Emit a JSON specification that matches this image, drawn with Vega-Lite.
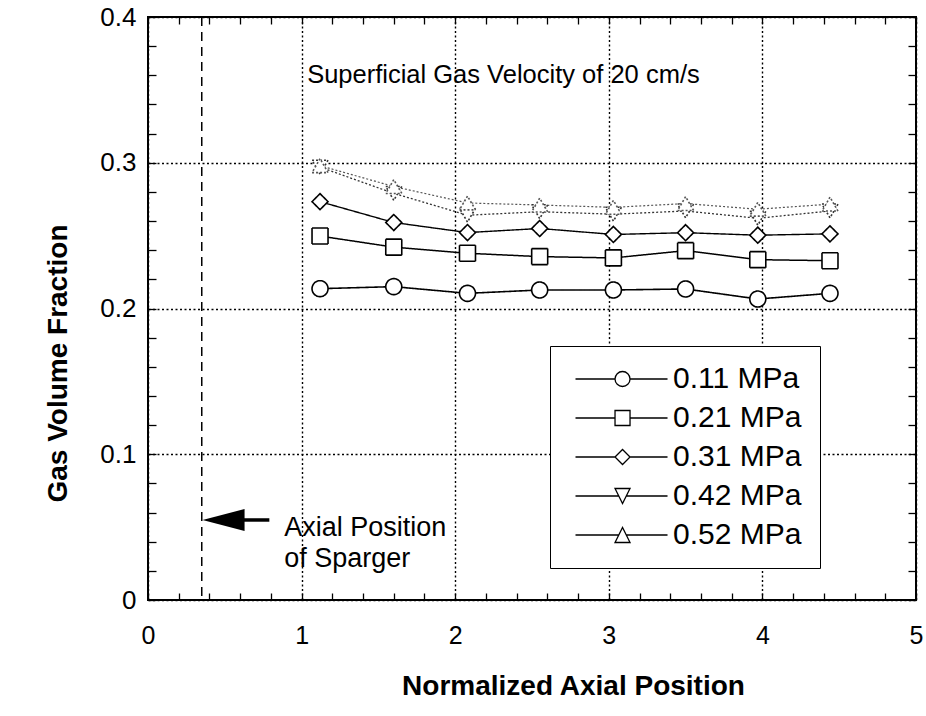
{
  "$schema": "https://vega.github.io/schema/vega-lite/v6.json",
  "width": 768,
  "height": 583,
  "autosize": {"type": "none"},
  "padding": {"left": 148, "top": 17, "right": 10, "bottom": 116},
  "background": "white",
  "config": {
    "view": {"stroke": "black", "strokeWidth": 2},
    "font": "Liberation Sans"
  },
  "datasets": {
    "gas": [
      {"series": "0.11 MPa", "pos": 1.12, "frac": 0.2136},
      {"series": "0.11 MPa", "pos": 1.6, "frac": 0.215},
      {"series": "0.11 MPa", "pos": 2.08, "frac": 0.2104},
      {"series": "0.11 MPa", "pos": 2.55, "frac": 0.2127},
      {"series": "0.11 MPa", "pos": 3.03, "frac": 0.2127},
      {"series": "0.11 MPa", "pos": 3.5, "frac": 0.2134},
      {"series": "0.11 MPa", "pos": 3.97, "frac": 0.2065},
      {"series": "0.11 MPa", "pos": 4.44, "frac": 0.2104},
      {"series": "0.21 MPa", "pos": 1.12, "frac": 0.2497},
      {"series": "0.21 MPa", "pos": 1.6, "frac": 0.2421},
      {"series": "0.21 MPa", "pos": 2.08, "frac": 0.2379},
      {"series": "0.21 MPa", "pos": 2.55, "frac": 0.2356},
      {"series": "0.21 MPa", "pos": 3.03, "frac": 0.2347},
      {"series": "0.21 MPa", "pos": 3.5, "frac": 0.2397},
      {"series": "0.21 MPa", "pos": 3.97, "frac": 0.2335},
      {"series": "0.21 MPa", "pos": 4.44, "frac": 0.2328},
      {"series": "0.31 MPa", "pos": 1.12, "frac": 0.2733},
      {"series": "0.31 MPa", "pos": 1.6, "frac": 0.259},
      {"series": "0.31 MPa", "pos": 2.08, "frac": 0.2521},
      {"series": "0.31 MPa", "pos": 2.55, "frac": 0.2549},
      {"series": "0.31 MPa", "pos": 3.03, "frac": 0.2508},
      {"series": "0.31 MPa", "pos": 3.5, "frac": 0.252},
      {"series": "0.31 MPa", "pos": 3.97, "frac": 0.2503},
      {"series": "0.31 MPa", "pos": 4.44, "frac": 0.2512},
      {"series": "0.42 MPa", "pos": 1.12, "frac": 0.297},
      {"series": "0.42 MPa", "pos": 1.6, "frac": 0.279},
      {"series": "0.42 MPa", "pos": 2.08, "frac": 0.264},
      {"series": "0.42 MPa", "pos": 2.55, "frac": 0.2664},
      {"series": "0.42 MPa", "pos": 3.03, "frac": 0.2647},
      {"series": "0.42 MPa", "pos": 3.5, "frac": 0.2669},
      {"series": "0.42 MPa", "pos": 3.97, "frac": 0.2619},
      {"series": "0.42 MPa", "pos": 4.44, "frac": 0.2669},
      {"series": "0.52 MPa", "pos": 1.12, "frac": 0.298},
      {"series": "0.52 MPa", "pos": 1.6, "frac": 0.2837},
      {"series": "0.52 MPa", "pos": 2.08, "frac": 0.2724},
      {"series": "0.52 MPa", "pos": 2.55, "frac": 0.271},
      {"series": "0.52 MPa", "pos": 3.03, "frac": 0.2694},
      {"series": "0.52 MPa", "pos": 3.5, "frac": 0.272},
      {"series": "0.52 MPa", "pos": 3.97, "frac": 0.2681},
      {"series": "0.52 MPa", "pos": 4.44, "frac": 0.2716}
    ],
    "sparger": [{"pos": 0.35}],
    "shaft": [{"pos": 0.6, "pos2": 0.79, "frac": 0.0549}],
    "head": [{"pos": 0.492, "frac": 0.0549}],
    "note": [{"pos": 0.887, "frac": 0.0497, "text": "Axial Position\nof Sparger"}],
    "title": [{"pos": 1.036, "frac": 0.3602, "text": "Superficial Gas Velocity of 20 cm/s"}]
  },
  "layer": [
    {
      "data": {"name": "gas"},
      "mark": {"type": "line"},
      "encoding": {
        "x": {
          "field": "pos", "type": "quantitative",
          "scale": {"domain": [0, 5], "nice": false, "zero": false},
          "axis": {
            "orient": "bottom",
            "values": [0,0.2,0.4,0.6,0.8,1,1.2,1.4,1.6,1.8,2,2.2,2.4,2.6,2.8,3,3.2,3.4,3.6,3.8,4,4.2,4.4,4.6,4.8,5],
            "labelExpr": "abs(datum.value-round(datum.value))<0.001 ? format(datum.value,'d') : ''",
            "labelFlush": false,
            "labelFontSize": 25,
            "labelColor": "black",
            "labelPadding": 30,
            "labelBaseline": "top",
            "domain": false,
            "tickSize": -7,
            "tickColor": "black",
            "tickWidth": 1.3,
            "grid": true,
            "gridColor": "black",
            "gridDash": [2, 2.5],
            "gridWidth": 1.4,
            "gridOpacity": {"condition": {"test": "abs(datum.value-round(datum.value))<0.001", "value": 1}, "value": 0},
            "title": "Normalized Axial Position",
            "titleFontSize": 28,
            "titleFontWeight": "bold",
            "titleColor": "black",
            "titlePadding": 24,
            "titleX": 425
          }
        },
        "y": {
          "field": "frac", "type": "quantitative",
          "scale": {"domain": [0, 0.4], "nice": false},
          "axis": {
            "orient": "left",
            "values": [0,0.02,0.04,0.06,0.08,0.1,0.12,0.14,0.16,0.18,0.2,0.22,0.24,0.26,0.28,0.3,0.32,0.34,0.36,0.38,0.4],
            "labelExpr": "abs(datum.value*10-round(datum.value*10))<0.001 ? format(datum.value,'.1~f') : ''",
            "labelFlush": false,
            "labelFontSize": 26,
            "labelColor": "black",
            "labelPadding": 20,
            "domain": false,
            "tickSize": -8,
            "tickColor": "black",
            "tickWidth": 1.3,
            "grid": true,
            "gridColor": "black",
            "gridDash": [2, 2.5],
            "gridWidth": 1.4,
            "gridOpacity": {"condition": {"test": "abs(datum.value*10-round(datum.value*10))<0.001", "value": 1}, "value": 0},
            "title": "Gas Volume Fraction",
            "titleFontSize": 28,
            "titleFontWeight": "bold",
            "titleColor": "black",
            "titlePadding": 27,
            "titleY": 346
          }
        },
        "detail": {"field": "series", "type": "nominal"},
        "color": {
          "field": "series", "type": "nominal",
          "scale": {"domain": ["0.11 MPa","0.21 MPa","0.31 MPa","0.42 MPa","0.52 MPa"], "range": ["black","black","black","#333333","#555555"]},
          "legend": null
        },
        "strokeDash": {
          "field": "series", "type": "nominal",
          "scale": {"domain": ["0.11 MPa","0.21 MPa","0.31 MPa","0.42 MPa","0.52 MPa"], "range": [[1,0],[1,0],[1,0],[2,2],[2,2]]},
          "legend": null
        },
        "strokeWidth": {
          "field": "series", "type": "ordinal",
          "scale": {"domain": ["0.11 MPa","0.21 MPa","0.31 MPa","0.42 MPa","0.52 MPa"], "range": [1.6,1.2,2.2,1.5,1.5]},
          "legend": null
        }
      }
    },
    {
      "data": {"name": "gas"},
      "mark": {"type": "point", "filled": true, "fill": "white", "fillOpacity": 1, "opacity": 1, "strokeWidth": 1.6, "size": 256},
      "encoding": {
        "x": {
          "field": "pos", "type": "quantitative",
          "scale": {"domain": [0, 5], "nice": false, "zero": false},
          "axis": {
            "orient": "top",
            "values": [0,0.2,0.4,0.6,0.8,1,1.2,1.4,1.6,1.8,2,2.2,2.4,2.6,2.8,3,3.2,3.4,3.6,3.8,4,4.2,4.4,4.6,4.8,5],
            "labels": false, "grid": false, "domain": false,
            "tickSize": -7, "tickColor": "black", "tickWidth": 1.3, "title": null
          }
        },
        "y": {
          "field": "frac", "type": "quantitative",
          "scale": {"domain": [0, 0.4], "nice": false},
          "axis": {
            "orient": "right",
            "values": [0,0.02,0.04,0.06,0.08,0.1,0.12,0.14,0.16,0.18,0.2,0.22,0.24,0.26,0.28,0.3,0.32,0.34,0.36,0.38,0.4],
            "labels": false, "grid": false, "domain": false,
            "tickSize": -8, "tickColor": "black", "tickWidth": 1.3, "title": null
          }
        },
        "shape": {
          "field": "series", "type": "nominal",
          "scale": {"domain": ["0.11 MPa","0.21 MPa","0.31 MPa","0.42 MPa","0.52 MPa"], "range": ["circle","square","diamond","triangle-down","triangle-up"]},
          "legend": null
        },
        "stroke": {
          "field": "series", "type": "nominal",
          "scale": {"domain": ["0.11 MPa","0.21 MPa","0.31 MPa","0.42 MPa","0.52 MPa"], "range": ["black","black","black","#333333","#555555"]},
          "legend": null
        },
        "strokeDash": {
          "field": "series", "type": "nominal",
          "scale": {"domain": ["0.11 MPa","0.21 MPa","0.31 MPa","0.42 MPa","0.52 MPa"], "range": [[1,0],[1,0],[1,0],[2,2],[2,2]]},
          "legend": null
        }
      }
    },
    {
      "data": {"name": "sparger"},
      "mark": {"type": "rule", "color": "black", "strokeWidth": 1.5, "strokeDash": [9, 6]},
      "encoding": {
        "x": {"field": "pos", "type": "quantitative", "scale": {"domain": [0, 5], "nice": false, "zero": false}, "axis": null}
      }
    },
    {
      "data": {"name": "shaft"},
      "mark": {"type": "rule", "color": "black", "strokeWidth": 3.5},
      "encoding": {
        "x": {"field": "pos", "type": "quantitative", "scale": {"domain": [0, 5], "nice": false, "zero": false}, "axis": null},
        "x2": {"field": "pos2"},
        "y": {"field": "frac", "type": "quantitative", "scale": {"domain": [0, 0.4], "nice": false}, "axis": null}
      }
    },
    {
      "data": {"name": "head"},
      "mark": {"type": "point", "shape": "M-1,0L1,-0.52L1,0.52Z", "filled": true, "color": "black", "opacity": 1, "size": 1764},
      "encoding": {
        "x": {"field": "pos", "type": "quantitative", "scale": {"domain": [0, 5], "nice": false, "zero": false}, "axis": null},
        "y": {"field": "frac", "type": "quantitative", "scale": {"domain": [0, 0.4], "nice": false}, "axis": null}
      }
    },
    {
      "data": {"name": "note"},
      "mark": {"type": "text", "align": "left", "baseline": "middle", "fontSize": 27, "lineHeight": 31, "lineBreak": "\n", "color": "black", "font": "Liberation Sans"},
      "encoding": {
        "x": {"field": "pos", "type": "quantitative", "scale": {"domain": [0, 5], "nice": false, "zero": false}, "axis": null},
        "y": {"field": "frac", "type": "quantitative", "scale": {"domain": [0, 0.4], "nice": false}, "axis": null},
        "text": {"field": "text"}
      }
    },
    {
      "data": {"name": "title"},
      "mark": {"type": "text", "align": "left", "baseline": "middle", "fontSize": 25.5, "color": "black", "font": "Liberation Sans"},
      "encoding": {
        "x": {"field": "pos", "type": "quantitative", "scale": {"domain": [0, 5], "nice": false, "zero": false}, "axis": null},
        "y": {"field": "frac", "type": "quantitative", "scale": {"domain": [0, 0.4], "nice": false}, "axis": null},
        "text": {"field": "text"}
      }
    },
    {
      "data": {"name": "gas"},
      "transform": [{"filter": "datum.pos > 100"}],
      "mark": {"type": "point", "filled": false, "stroke": "black", "strokeWidth": 1.3, "size": 225},
      "encoding": {
        "x": {"field": "pos", "type": "quantitative", "scale": {"domain": [0, 5], "nice": false, "zero": false}, "axis": null},
        "y": {"field": "frac", "type": "quantitative", "scale": {"domain": [0, 0.4], "nice": false}, "axis": null},
        "shape": {
          "field": "series", "type": "nominal",
          "scale": {
            "domain": ["0.11 MPa","0.21 MPa","0.31 MPa","0.42 MPa","0.52 MPa"],
            "range": [
              "M-1,0H4.27M6.27,0H11.27M6.27,0A1,1 0 1 1 4.27,0A1,1 0 1 1 6.27,0Z",
              "M-1,0H4.27M6.27,0H11.27M4.27,-1H6.27V1H4.27Z",
              "M-1,0H4.27M6.27,0H11.27M4.27,0L5.27,-1L6.27,0L5.27,1Z",
              "M-1,0H4.77M5.77,0H11.27M4.27,-1H6.27L5.27,1Z",
              "M-1,0H4.77M5.77,0H11.27M4.27,1H6.27L5.27,-1Z"
            ]
          },
          "legend": {
            "orient": "none",
            "legendX": 402,
            "legendY": 329,
            "title": null,
            "padding": 18,
            "strokeColor": "black",
            "fillColor": "white",
            "symbolSize": 225,
            "symbolFillColor": "white",
            "symbolStrokeColor": "black",
            "symbolStrokeWidth": 1.3,
            "symbolOpacity": 1,
            "labelFontSize": 30,
            "labelFont": "Liberation Sans",
            "labelColor": "black",
            "labelOffset": 75,
            "labelLimit": 300,
            "rowPadding": 9,
            "encode": {
              "legend": {"strokeWidth": {"value": 3}},
              "symbols": {
                "opacity": {"value": 1},
                "fill": {"value": "white"},
                "strokeWidth": {"value": 1.3},
                "stroke": {"condition": {"test": "datum.value === '0.52 MPa'", "value": "#555555"}, "value": "black"},
                "strokeDash": {"condition": {"test": "datum.value === '0.42 MPa' || datum.value === '0.52 MPa'", "value": [2, 2]}, "value": [1, 0]}
              },
              "labels": {"fill": {"condition": {"test": "datum.value === '0.52 MPa'", "value": "#444444"}, "value": "black"}}
            }
          }
        }
      }
    }
  ],
  "resolve": {
    "scale": {"shape": "independent"},
    "axis": {"x": "independent", "y": "independent"}
  }
}
